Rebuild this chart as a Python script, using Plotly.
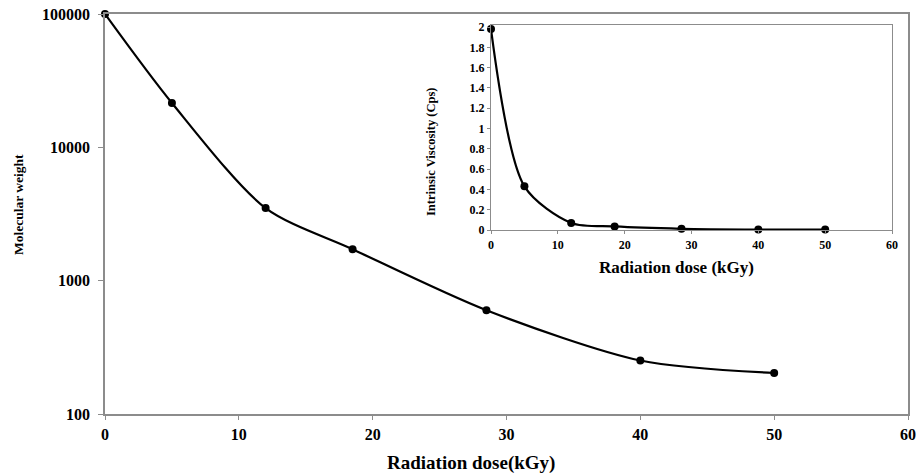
import plotly.graph_objects as go

# Main chart data
dose = [0, 5, 12, 18.5, 28.5, 40, 50]
mol_weight = [100000, 21500, 3500, 1720, 600, 252, 203]

# Inset data
inset_dose = [0, 5, 12, 18.5, 28.5, 40, 50]
viscosity = [1.98, 0.43, 0.07, 0.035, 0.012, 0.005, 0.005]

main_y_ticks = [100, 1000, 10000, 100000]
main_y_labels = ["100", "1000", "10000", "100000"]
main_x_ticks = [0, 10, 20, 30, 40, 50, 60]
inset_y_ticks = [0, 0.2, 0.4, 0.6, 0.8, 1, 1.2, 1.4, 1.6, 1.8, 2]
inset_y_labels = ["0", "0.2", "0.4", "0.6", "0.8", "1", "1.2", "1.4", "1.6", "1.8", "2"]
inset_x_ticks = [0, 10, 20, 30, 40, 50, 60]

main_x_title = "Radiation dose(kGy)"
main_y_title = "Molecular weight"
inset_x_title = "Radiation dose (kGy)"
inset_y_title = "Intrinsic Viscosity (Cps)"

FONT = "Liberation Serif"
AX = "#8c8c8c"

W, H = 917, 474
PL, PR, PT, PB = 105, 908, 14, 414  # plot area in window pixels
PW, PH = PR - PL, PB - PT


def px(xw):
    return (xw - PL) / PW


def py(yw):
    return (PB - yw) / PH


fig = go.Figure()
fig.add_trace(go.Scatter(
    x=dose, y=mol_weight, mode="lines+markers",
    line=dict(color="black", width=2.2, shape="spline", smoothing=0.8),
    marker=dict(color="black", size=8),
    xaxis="x", yaxis="y", showlegend=False, cliponaxis=False,
))
fig.add_trace(go.Scatter(
    x=inset_dose, y=viscosity, mode="lines+markers",
    line=dict(color="black", width=2.2, shape="spline", smoothing=0.8),
    marker=dict(color="black", size=8),
    xaxis="x2", yaxis="y2", showlegend=False, cliponaxis=False,
))

common = dict(showgrid=False, zeroline=False, automargin=False, ticklabeloverflow="allow",
              showline=True, linecolor=AX, mirror=True, ticks="outside", tickcolor=AX)

fig.update_layout(
    width=W, height=H,
    margin=dict(l=PL, r=W - PR, t=PT, b=H - PB, autoexpand=False),
    paper_bgcolor="white", plot_bgcolor="white",
    font=dict(family=FONT, color="black"),
    xaxis=dict(
        domain=[0, 1], range=[0, 60], tickvals=main_x_ticks, linewidth=1.5, ticklen=4,
        tickfont=dict(family=FONT, size=16, weight="bold"), ticklabelstandoff=1, **common,
    ),
    yaxis=dict(
        type="log", range=[2, 5], tickvals=main_y_ticks, ticktext=main_y_labels,
        linewidth=1.5, ticklen=5,
        tickfont=dict(family=FONT, size=16, weight="bold"), ticklabelstandoff=5, **common,
    ),
    xaxis2=dict(
        domain=[px(491), px(892)], range=[0, 60], tickvals=inset_x_ticks, anchor="y2",
        linewidth=1.2, ticklen=3,
        tickfont=dict(family=FONT, size=12, weight="bold"), **common,
    ),
    yaxis2=dict(
        domain=[py(230), py(25)], range=[0, 2.02], tickvals=inset_y_ticks, ticktext=inset_y_labels,
        anchor="x2", linewidth=1.2, ticklen=3,
        tickfont=dict(family=FONT, size=12, weight="bold"), **common,
    ),
    annotations=[
        dict(text="<b>%s</b>" % main_x_title, xref="paper", yref="paper",
             x=px(471), y=py(463), showarrow=False,
             xanchor="center", yanchor="middle", font=dict(family=FONT, size=19)),
        dict(text="<b>%s</b>" % main_y_title, xref="paper", yref="paper",
             x=px(18), y=py(205), showarrow=False, textangle=-90,
             xanchor="center", yanchor="middle", font=dict(family=FONT, size=13.5)),
        dict(text="<b>%s</b>" % inset_x_title, xref="paper", yref="paper",
             x=px(676), y=py(267), showarrow=False,
             xanchor="center", yanchor="middle", font=dict(family=FONT, size=17)),
        dict(text="<b>%s</b>" % inset_y_title, xref="paper", yref="paper",
             x=px(431), y=py(152), showarrow=False, textangle=-90,
             xanchor="center", yanchor="middle", font=dict(family=FONT, size=12.5)),
    ],
)

fig.write_html("out.html", config={"displayModeBar": False},
               post_script="document.body.style.margin='0';")
